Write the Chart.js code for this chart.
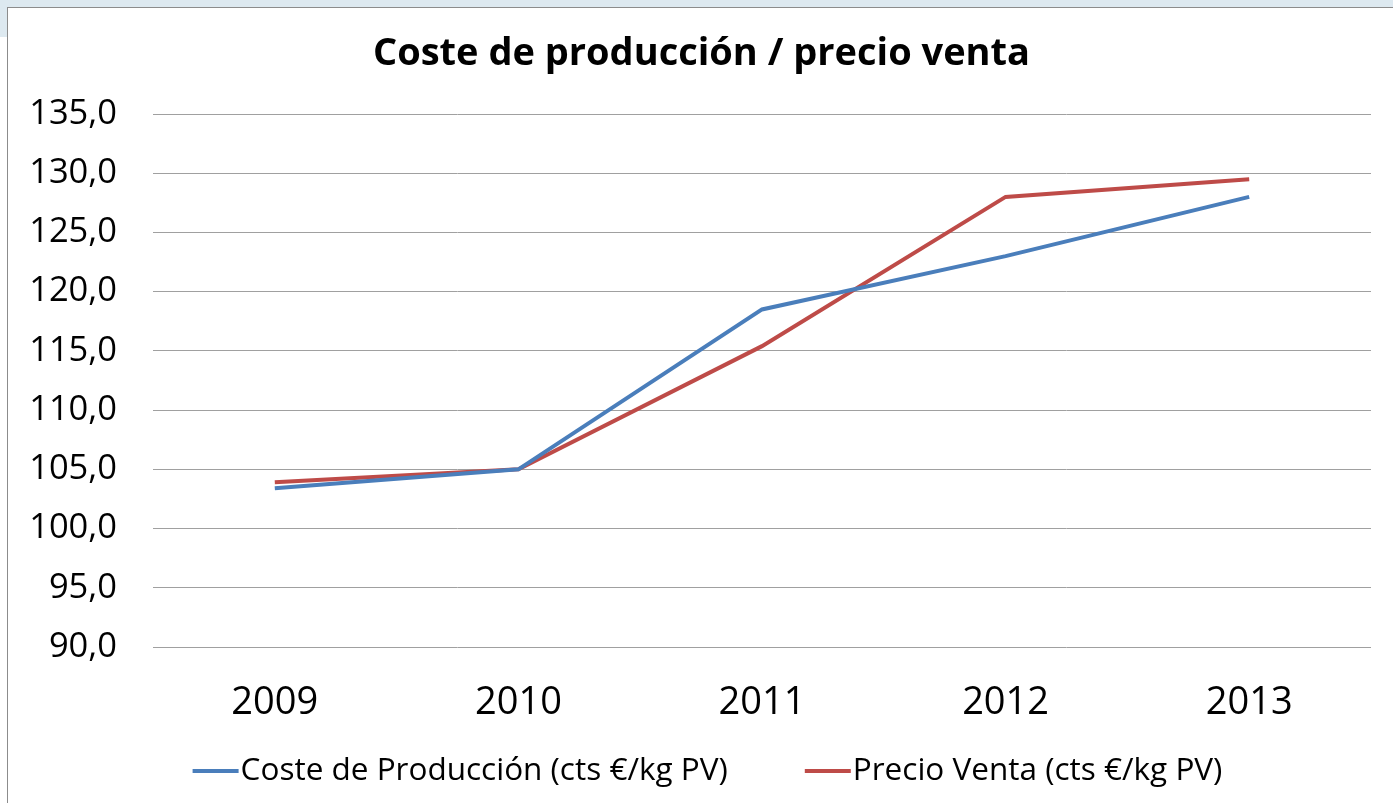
<!DOCTYPE html>
<html>
<head>
<meta charset="utf-8">
<script src="https://cdn.jsdelivr.net/npm/chart.js@4/dist/chart.umd.min.js"></script>
<style>
  html, body { margin: 0; padding: 0; background: #ffffff; overflow: hidden; }
  #band { position: absolute; left: 0; top: 0; width: 1393px; height: 7px; background: #dde9f0; }
  #bandL { position: absolute; left: 0; top: 0; width: 7px; height: 37px; background: #dde9f0; }
  #box { position: absolute; left: 7px; top: 7px; width: 1386px; height: 796px;
         border-left: 1px solid #8c8c8c; border-top: 1px solid #8c8c8c; box-sizing: border-box; background: #fff; }
  #wrap { position: absolute; left: 1px; top: 1px; width: 1385px; height: 795px; }
</style>
</head>
<body>
<div id="band"></div>
<div id="bandL"></div>
<div id="box"><div id="wrap"><canvas id="c"></canvas></div></div>
<script>
const categories = ['2009', '2010', '2011', '2012', '2013'];
const costeProduccion = [103.4, 105.0, 118.5, 123.0, 128.0];
const precioVenta = [103.9, 105.0, 115.4, 128.0, 129.5];
const yTickValues = [90, 95, 100, 105, 110, 115, 120, 125, 130, 135];
const seriesNames = ['Coste de Producción (cts €/kg PV)', 'Precio Venta (cts €/kg PV)'];
const titleText = 'Coste de producción / precio venta';

const FONT = "'Open Sans', sans-serif";

const legendPlugin = {
  id: 'customLegend',
  afterDraw(chart) {
    const ctx = chart.ctx;
    const y = 762;
    const lineW = 46, gap = 2, itemGap = 77;
    ctx.save();
    ctx.font = '31.5px ' + FONT;
    ctx.textBaseline = 'middle';
    const items = chart.data.datasets.map(ds => ({ text: ds.label, color: ds.borderColor, w: ctx.measureText(ds.label).width }));
    let total = 0;
    items.forEach((it, i) => { total += lineW + gap + it.w + (i < items.length - 1 ? itemGap : 0); });
    let x = (chart.width - total) / 2 + 6;
    items.forEach(it => {
      ctx.strokeStyle = it.color;
      ctx.lineWidth = 4;
      ctx.beginPath();
      ctx.moveTo(x, y);
      ctx.lineTo(x + lineW, y);
      ctx.stroke();
      ctx.fillStyle = '#000';
      ctx.fillText(it.text, x + lineW + gap, y);
      x += lineW + gap + it.w + itemGap;
    });
    ctx.restore();
  }
};

new Chart(document.getElementById('c'), {
  type: 'line',
  data: {
    labels: categories,
    datasets: [
      { label: seriesNames[0], data: costeProduccion, borderColor: '#4a7ebb', backgroundColor: '#4a7ebb',
        borderWidth: 4, pointRadius: 0, tension: 0, fill: false },
      { label: seriesNames[1], data: precioVenta, borderColor: '#be4b48', backgroundColor: '#be4b48',
        borderWidth: 4, pointRadius: 0, tension: 0, fill: false }
    ]
  },
  options: {
    responsive: true,
    maintainAspectRatio: false,
    animation: false,
    layout: { padding: { top: 0, right: 23, bottom: 80, left: 23 } },
    plugins: {
      legend: { display: false },
      tooltip: { enabled: false },
      title: {
        display: true, text: titleText, color: '#000',
        font: { family: FONT, size: 38, weight: 'bold', lineHeight: 1.2 },
        padding: { top: 22, bottom: 37.4 }
      }
    },
    scales: {
      x: {
        offset: true,
        grid: { display: false },
        border: { display: false },
        ticks: { color: '#000', font: { family: FONT, size: 38 }, padding: 25, maxRotation: 0 },
        afterFit(scale) { scale.height = 77; }
      },
      y: {
        min: 90, max: 135,
        afterBuildTicks(scale) { scale.ticks = yTickValues.map(v => ({ value: v })); },
        grid: { color: '#a0a0a0', lineWidth: 1, drawTicks: false },
        border: { display: false },
        ticks: {
          color: '#000', font: { family: FONT, size: 34.5 }, padding: 36,
          callback: v => v.toFixed(1).replace('.', ',')
        },
        afterFit(scale) { scale.width = 121; }
      }
    }
  },
  plugins: [legendPlugin]
});
</script>
</body>
</html>
